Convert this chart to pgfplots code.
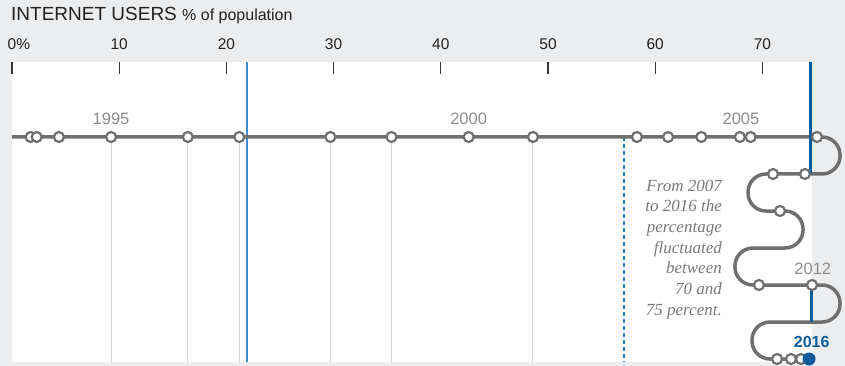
\documentclass[border=0pt]{standalone}
\usepackage{fontspec}
\setmainfont{Liberation Sans}
\newfontfamily\annfont{Liberation Serif}
\usepackage{pgfplots}
\pgfplotsset{compat=1.18}
\definecolor{bg}{HTML}{ECEDEF}
\definecolor{linegray}{HTML}{6F6F6F}
\definecolor{vgray}{HTML}{D3D3D3}
\definecolor{bluethick}{HTML}{0E5C9E}
\definecolor{bluethin}{HTML}{2A78C2}
\definecolor{bluelight}{HTML}{3F8AD2}
\definecolor{yeargray}{HTML}{8C8C8C}
\definecolor{anngray}{HTML}{7A7A7A}
\definecolor{titlec}{HTML}{222222}
\begin{document}
\begin{tikzpicture}
\fill[bg] (0,0) rectangle (845pt,-366pt);
\node[anchor=base west, inner sep=0pt, text=titlec] at (11pt,-21pt)
  {\fontsize{19}{22}\selectfont INTERNET USERS \fontsize{16}{19}\selectfont\% of population};
\begin{axis}[
  at={(12pt,-362pt)}, anchor=south west,
  scale only axis, width=800pt, height=300pt,
  xmin=0, xmax=74.627, ymin=-362, ymax=-62,
  clip=false,
  axis line style={draw=none},
  axis background/.style={fill=white},
  xtick={0,10,...,70},
  xticklabels={0\rlap{\%},10,20,30,40,50,60,70},
  xtick pos=upper, xticklabel pos=upper,
  ytick=\empty,
  tick align=inside,
  major tick length=12pt,
  x tick style={draw=titlec!90, line width=1.3pt},
  xticklabel style={font=\fontsize{15.5}{18}\selectfont, text=titlec, anchor=base, inner sep=0pt, yshift=12pt},
]
% gray vertical lines
\addplot[draw=vgray, line width=1pt] coordinates {(9.24,-137) (9.24,-362)};
\addplot[draw=vgray, line width=1pt] coordinates {(16.4,-137) (16.4,-362)};
\addplot[draw=vgray, line width=1pt] coordinates {(21.2,-137) (21.2,-362)};
\addplot[draw=vgray, line width=1pt] coordinates {(29.7,-137) (29.7,-362)};
\addplot[draw=vgray, line width=1pt] coordinates {(35.4,-137) (35.4,-362)};
\addplot[draw=vgray, line width=1pt] coordinates {(48.6,-137) (48.6,-362)};
% blue reference lines
\addplot[draw=bluelight, line width=1.8pt] coordinates {(21.95,-62) (21.95,-362)};
\addplot[draw=bluethin, line width=1.6pt, dash pattern=on 4pt off 3pt] coordinates {(57.09,-137) (57.09,-362)};
% main line and snake
\addplot[draw=linegray, line width=3.5pt, rounded corners=18pt] coordinates {
 (0,-137) (77.24,-137) (77.24,-174) (68.66,-174) (68.66,-211) (73.79,-211)
 (73.79,-248) (67.44,-248) (67.44,-285) (77.24,-285) (77.24,-322) (69.03,-322)
 (69.03,-359) (74.44,-359)};
\addplot[draw=bluethick, line width=3pt] coordinates {(74.49,-62) (74.49,-174)};
\addplot[draw=bluethick, line width=3pt] coordinates {(74.55,-285) (74.55,-322)};
% markers
\addplot[only marks, mark=*, mark size=5pt, mark options={fill=white, draw=linegray, line width=2.2pt}] coordinates {
 (1.74,-137) (2.30,-137) (4.38,-137) (9.24,-137) (16.4,-137) (21.2,-137)
 (29.7,-137) (35.4,-137) (42.6,-137) (48.6,-137) (58.3,-137) (61.2,-137)
 (64.3,-137) (67.9,-137) (68.9,-137) (75.09,-137)
 (73.97,-174) (70.99,-174) (71.64,-211) (69.68,-285) (74.63,-285)
 (71.37,-359) (72.67,-359) (73.60,-359)};
\addplot[only marks, mark=*, mark size=6pt, mark options={fill=bluethick, draw=bluethick, line width=1pt}] coordinates {(74.35,-359)};
% year labels
\node[anchor=base, text=yeargray, inner sep=0pt, font=\fontsize{16.5}{19}\selectfont] at (axis cs:9.24,-125) {1995};
\node[anchor=base, text=yeargray, inner sep=0pt, font=\fontsize{16.5}{19}\selectfont] at (axis cs:42.6,-125) {2000};
\node[anchor=base, text=yeargray, inner sep=0pt, font=\fontsize{16.5}{19}\selectfont] at (axis cs:68.0,-125) {2005};
\node[anchor=base, text=yeargray, inner sep=0pt, font=\fontsize{16.5}{19}\selectfont] at (axis cs:74.7,-274) {2012};
\node[anchor=base, text=bluethick, inner sep=0pt, font=\fontsize{16}{19}\selectfont\bfseries] at (axis cs:74.6,-347) {2016};
% annotation
\begin{scope}[every node/.style={anchor=base east, inner sep=0pt, text=anngray, font=\annfont\itshape\fontsize{17}{20}\selectfont}]
\node at (axis cs:66.23,-191) {From 2007};
\node at (axis cs:66.23,-212) {to 2016 the};
\node at (axis cs:66.23,-232) {percentage};
\node at (axis cs:66.23,-253) {fluctuated};
\node at (axis cs:66.23,-273) {between};
\node at (axis cs:66.23,-294) {70 and};
\node at (axis cs:66.23,-315) {75 percent.};
\end{scope}
\end{axis}
\pgfresetboundingbox
\path (0,0) rectangle (845pt,-366pt);
\end{tikzpicture}
\end{document}
